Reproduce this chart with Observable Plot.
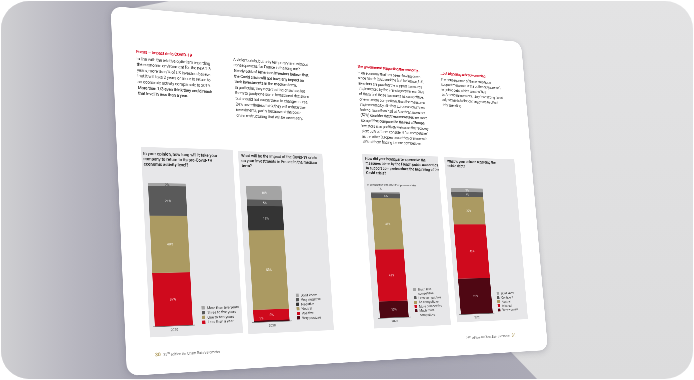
<!DOCTYPE html>
<html><head><meta charset="utf-8">
<script src="https://cdn.jsdelivr.net/npm/d3@7"></script>
<script src="https://cdn.jsdelivr.net/npm/@observablehq/plot@0.6"></script>
<style>
html,body{margin:0;padding:0;width:694px;height:380px;overflow:hidden;background:#fff;}
#bg{position:absolute;left:1px;top:1px;width:692px;height:378px;border-radius:28px;overflow:hidden;background:linear-gradient(180deg,#e3e3e4,#dcdcdd);}
#shadow{position:absolute;left:0;top:0;width:692px;height:378px;
 background:linear-gradient(90deg,#cfcfd2 0%,#b9b8c1 10%,#aaa9b5 18%,#a7a6b3 60%,#b1b0bb 100%);
 clip-path:polygon(0 0,168px 0,118px 10px,510px 351px,536px 378px,0 378px);}
#page{position:absolute;left:0;top:0;width:1200px;height:900px;background:#fff;border-radius:28px;transform-origin:0 0;
 font-family:Roboto,"Liberation Sans",sans-serif;color:#3b3b3b;box-shadow:0 4px 18px rgba(60,60,80,0.25);}
.abs{position:absolute;}
.col{font-size:10.8px;line-height:14.6px;color:#404040;white-space:nowrap;letter-spacing:-0.35px;}
.col .h{color:#d0021b;font-weight:600;margin-bottom:3px;}
.panel{background:#e7e7e9;}
.ptitle{font-size:10.4px;line-height:13.2px;font-weight:500;color:#222;}
.ptitle b{font-weight:700;}
.psub{font-size:7.5px;color:#333;}
.legend{font-size:9.2px;line-height:11.6px;color:#333;}
.li{display:flex;align-items:flex-start;}
.sw{display:inline-block;width:8px;height:8px;margin:1.5px 6px 0 0;flex:none;}
.foot{font-size:8.5px;color:#666;white-space:nowrap;}
.pn{color:#b29f63;font-weight:700;font-size:12px;}
.bb{font-weight:600;}
</style></head>
<body>
<div id="bg"><div id="shadow"></div></div>
<div id="page"></div>
<script>
// ---------- data ----------
const years = ["2020"];

const q1Categories = ["Less than a year","One to two years","Three to five years","More than five years"];
const q1Values = [37, 40, 21, 2];

const q2Categories = ["Very positive","Positive","Neutral","Negative","Very negative","Don't know"];
const q2Values = [1, 8, 58, 18, 5, 10];

const q3Categories = ["Much more competitive","More competitive","As competitive","Less competitive","Much less competitive"];
const q3Values = [13, 41, 41, 4, 1];

const q4Categories = ["Very worried","Worried","Neutral","Confident","Don't know"];
const q4Values = [28, 43, 22, 4, 3];

// ---------- styles ----------
const RED="#cf0a1d", TAN="#ab9a62", MAROON="#4f0713", DGRAY="#5a5a5a", BLACK="#343434", LGRAY="#a4a4a4";
const q1Colors=[RED,TAN,DGRAY,LGRAY];
const q2Colors=[MAROON,RED,TAN,BLACK,DGRAY,LGRAY];
const q3Colors=[MAROON,RED,TAN,DGRAY,LGRAY];
const q4Colors=[MAROON,RED,TAN,DGRAY,LGRAY];

// ---------- perspective (flat page -> screen) ----------
const W=1200, H=900;
const quad=[[110.5,6],[521,42],[548,350],[127,376]];
function homography(q){
  const [[x0,y0],[x1,y1],[x2,y2],[x3,y3]]=q;
  const dx1=x1-x2,dx2=x3-x2,dx3=x0-x1+x2-x3, dy1=y1-y2,dy2=y3-y2,dy3=y0-y1+y2-y3;
  const den=dx1*dy2-dx2*dy1;
  const g=(dx3*dy2-dx2*dy3)/den, h=(dx1*dy3-dx3*dy1)/den;
  const a=x1-x0+g*x1, b=x3-x0+h*x3, c=x0, d=y1-y0+g*y1, e=y3-y0+h*y3, f=y0;
  return [[a/W,b/H,c],[d/W,e/H,f],[g/W,h/H,1]];
}
function inv3(m){
  const [[a,b,c],[d,e,f],[g,h,i]]=m;
  const A=e*i-f*h,B=-(d*i-f*g),C=d*h-e*g,D=-(b*i-c*h),E=a*i-c*g,F=-(a*h-b*g),G=b*f-c*e,Hh=-(a*f-c*d),I=a*e-b*d;
  const det=a*A+b*B+c*C;
  return [[A/det,D/det,G/det],[B/det,E/det,Hh/det],[C/det,F/det,I/det]];
}
const M=homography(quad), Mi=inv3(M);
function toFlat(x,y){const X=Mi[0][0]*x+Mi[0][1]*y+Mi[0][2],Y=Mi[1][0]*x+Mi[1][1]*y+Mi[1][2],Z=Mi[2][0]*x+Mi[2][1]*y+Mi[2][2];return [X/Z,Y/Z];}
function flatRect(r){const a=toFlat(r[0],r[1]),b=toFlat(r[2],r[3]);return {x:a[0],y:a[1],w:b[0]-a[0],h:b[1]-a[1]};}
const page=document.getElementById("page");
page.style.transform=`matrix3d(${M[0][0]},${M[1][0]},0,${M[2][0]},${M[0][1]},${M[1][1]},0,${M[2][1]},0,0,1,0,${M[0][2]},${M[1][2]},0,1)`;

function addBox(cls,r,html){
  const el=document.createElement("div");el.className="abs "+cls;
  const f=flatRect(r);
  Object.assign(el.style,{left:f.x+"px",top:f.y+"px",width:f.w+"px",height:f.h+"px"});
  el.innerHTML=html||"";page.appendChild(el);return el;
}

// ---------- text columns ----------
addBox("col",[136,49,220,101],`<div class="h">Focus – Impact de la COVID-19</div>In line with the relative optimism regarding<br>the economic environment for the next 2-3<br>years, more than ¼ of US investors believe<br>that it will take 2 years or more to return to<br>an economic activity comparable to 2019.<br><span class="bb">More than 1/3 even think they could reach<br>that level in less than a year.</span>`);
addBox("col",[233,57,318,122],`A violent crisis, but only temporary and without<br>consequences for France in the long run?<br><span class="bb">Nearly 60% of American investors believe that<br>the Covid crisis will not have any impact on<br>their investments in the medium term.</span><br>In particular, they note that the crisis has led<br>them to postpone some investment decisions<br>but should not cause them to change course.<br>24% nevertheless think they will reduce their<br>investments, partly because of the post-<br>crisis restructuring that will be necessary.`);
addBox("col",[357,64,437,150],`<div class="h">The government supporting the economy...</div>In an economy that has been slowing down<br>since March 2020 and the first lockdown, U.S.<br>investors are praising the support measures<br>implemented by the French government. 36%<br>of them find these measures as competitive,<br>or even more competitive, than the measures<br>implemented by all other European countries.<br>Indeed, more than half of American investors<br><span class="bb">(57%) consider that these measures are more<br>competitive compared to the rest of Europe.</span><br>Investors also positively welcome the recovery<br>plan: 38% of them consider it "as competitive"<br>as the other European countries or more with<br>58% of them finding it more competitive.`);
addBox("col",[440,71,507,112],`<div class="h">...but triggering a debt worsening</div>The consequence of these ambitious<br>support measures is the outbreak (increase)<br>in public debt, which worries 76%<br>of American investors. They fear strong fiscal<br>adjustments in the coming years to offset<br>this spending.`);

// ---------- footers ----------
addBox("foot",[155,352,260,360],`<span class="pn">30</span>&nbsp;&nbsp;&nbsp;25<sup>th</sup> edition AmCham Bain Barometer`);
addBox("foot",[466,335,532,342],`25<sup>th</sup> edition AmCham Bain Barometer&nbsp;&nbsp;&nbsp;<span class="pn">31</span>`);

// ---------- charts ----------
const panels=[
 {box:[141,147,243,333], title:[143,151,223,168], bar:[148,183,193,325], legend:[201,300,243,323],
  titleHtml:"In your opinion, how long will it take your company to return to its pre-Covid-19 <b>economic activity level?</b>",
  cats:q1Categories, values:q1Values, colors:q1Colors, small:null},
 {box:[238,151,334,330], title:[241,153,321,169], bar:[246,186,290,321], legend:[295,286,330,319],
  titleHtml:"What will be the impact of the Covid-19 crisis on your investments in France in the medium <b>term?</b>",
  cats:q2Categories, values:q2Values, colors:q2Colors, small:{dx:-28,dy:-6,fill:"#fff"}},
 {box:[362,154,451,325], title:[365,156,440,177], bar:[371,192,409,317], legend:[413,286,449,316],
  titleHtml:"How did your headquarters perceive the measures taken by the French public <b>authorities to support companies since the beginning of the Covid crisis?</b>",
  sub:[367,183,440,187], subText:"In comparison with other European countries",
  cats:q3Categories, values:q3Values, colors:q3Colors, small:{dx:-16,dy:-9,fill:"#333"}},
 {box:[444,157,528,319], title:[447,159,500,168], bar:[451,188,493,313], legend:[496,285,526,311],
  titleHtml:"What is your opinion regarding the public debt?",
  cats:q4Categories, values:q4Values, colors:q4Colors, small:null}
];

for(const p of panels){
  addBox("panel",p.box);
  addBox("ptitle",p.title,p.titleHtml);
  if(p.sub) addBox("psub",p.sub,p.subText);
  const data=p.cats.map((c,i)=>({year:years[0],cat:c,value:p.values[i]}));
  const fb=flatRect(p.bar);
  const pad={l:12,r:12,t:14,b:22}, ov=5;
  const svg=Plot.plot({
    width:fb.w+pad.l+pad.r, height:fb.h+pad.t+pad.b,
    marginLeft:pad.l-ov, marginRight:pad.r-ov, marginTop:pad.t, marginBottom:pad.b,
    x:{domain:years,padding:0,tickSize:0,tickPadding:6,label:null},
    y:{domain:[0,100],axis:null},
    color:{domain:p.cats,range:p.colors},
    style:{background:"transparent",fontFamily:"Roboto, sans-serif",fontSize:"8.5px",color:"#444",overflow:"visible"},
    marks:[
      Plot.barY(data,{x:"year",y:"value",fill:"cat",insetLeft:ov,insetRight:ov}),
      Plot.ruleY([0],{stroke:"#666",strokeWidth:1.6}),
      Plot.text(data,Plot.stackY({x:"year",y:"value",z:"cat",text:d=>(p.small&&d.value<=1)?"":d.value+"%",fill:d=>d.value<=2?"#333":"#fff",fontSize:8.5})),
      ...(p.small?[Plot.text(data,Plot.stackY2({x:"year",y:"value",z:"cat",text:d=>d.value<=1?d.value+"%":"",fill:p.small.fill,fontSize:8.5,dx:p.small.dx,dy:p.small.dy}))]:[])
    ]
  });
  const wrap=document.createElement("div");wrap.className="abs";
  Object.assign(wrap.style,{left:(fb.x-pad.l)+"px",top:(fb.y-pad.t)+"px",width:(fb.w+pad.l+pad.r)+"px",height:(fb.h+pad.t+pad.b)+"px"});
  wrap.appendChild(svg);page.appendChild(wrap);
  const leg=addBox("legend",p.legend,"");
  leg.style.display="flex";leg.style.flexDirection="column";leg.style.justifyContent="flex-end";
  leg.innerHTML=p.cats.map((c,i)=>({c,col:p.colors[i]})).reverse().map(o=>`<div class="li"><span class="sw" style="background:${o.col}"></span><span>${o.c}</span></div>`).join("");
}
</script>
</body></html>
